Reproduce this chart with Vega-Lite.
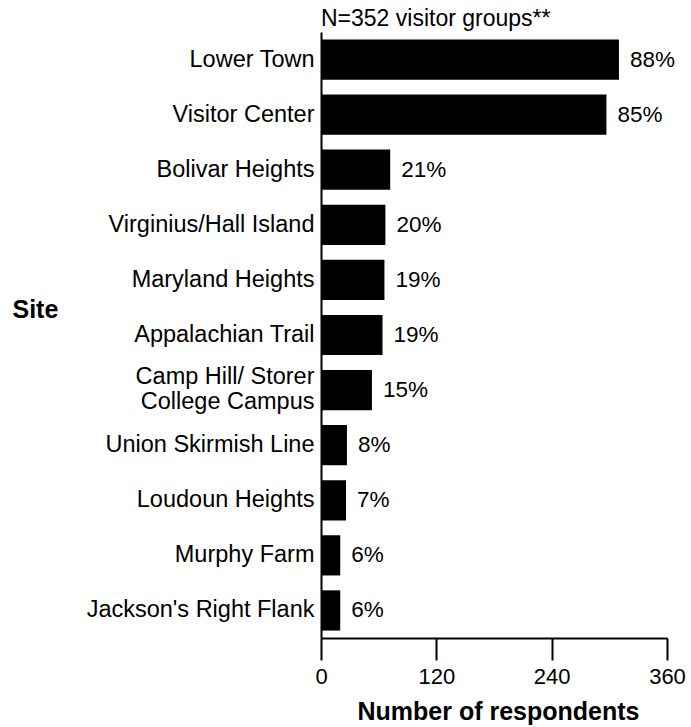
{
  "$schema": "https://vega.github.io/schema/vega-lite/v6.json",
  "autosize": {"type": "none"},
  "width": 346,
  "height": 606,
  "padding": {"left": 321, "top": 32, "right": 24, "bottom": 89},
  "background": "white",
  "config": {
    "font": "Liberation Sans",
    "view": {"stroke": null}
  },
  "title": {
    "text": "N=352 visitor groups**",
    "anchor": "start",
    "frame": "group",
    "orient": "top",
    "fontSize": 23,
    "fontWeight": "normal",
    "font": "Liberation Sans",
    "color": "black",
    "baseline": "alphabetic",
    "offset": 8,
    "dy": 25
  },
  "data": {
    "values": [
      {"site": "Lower Town", "count": 310, "pct": "88%"},
      {"site": "Visitor Center", "count": 297, "pct": "85%"},
      {"site": "Bolivar Heights", "count": 72, "pct": "21%"},
      {"site": "Virginius/Hall Island", "count": 67, "pct": "20%"},
      {"site": "Maryland Heights", "count": 66, "pct": "19%"},
      {"site": "Appalachian Trail", "count": 64, "pct": "19%"},
      {"site": "Camp Hill/ Storer|College Campus", "count": 53, "pct": "15%"},
      {"site": "Union Skirmish Line", "count": 27, "pct": "8%"},
      {"site": "Loudoun Heights", "count": 26, "pct": "7%"},
      {"site": "Murphy Farm", "count": 20, "pct": "6%"},
      {"site": "Jackson's Right Flank", "count": 20, "pct": "6%"}
    ]
  },
  "encoding": {
    "y": {
      "field": "site",
      "type": "nominal",
      "sort": null,
      "scale": {"paddingInner": 0.27, "paddingOuter": 0.135},
      "axis": {
        "title": "Site",
        "titleAngle": 0,
        "titleX": -309,
        "titleY": 285,
        "titleAlign": "left",
        "titleBaseline": "alphabetic",
        "titleFontSize": 25,
        "titleFontWeight": "bold",
        "titleColor": "black",
        "titleFont": "Liberation Sans",
        "labelExpr": "split(datum.label, '|')",
        "labelFontSize": 23.5,
        "labelColor": "black",
        "labelFont": "Liberation Sans",
        "labelLineHeight": 25,
        "labelPadding": 7,
        "labelOffset": {"condition": {"test": "indexof(datum.value, '|') >= 0", "value": -13}, "value": 0},
        "ticks": false,
        "tickSize": 0,
        "domainColor": "black",
        "domainWidth": 2,
        "labelLimit": 400,
        "grid": false
      }
    },
    "x": {
      "field": "count",
      "type": "quantitative",
      "scale": {"domain": [0, 360], "nice": false},
      "axis": {
        "title": "Number of respondents",
        "values": [0, 120, 240, 360],
        "titleFontSize": 25,
        "titleFontWeight": "bold",
        "titleColor": "black",
        "titleFont": "Liberation Sans",
        "titleY": 81,
        "titleX": 177,
        "titleBaseline": "alphabetic",
        "labelFontSize": 22,
        "labelColor": "black",
        "labelFont": "Liberation Sans",
        "labelPadding": 6,
        "labelFlush": false,
        "tickSize": 22,
        "tickWidth": 2,
        "tickColor": "black",
        "domainColor": "black",
        "domainWidth": 2,
        "grid": false
      }
    }
  },
  "layer": [
    {"mark": {"type": "bar", "color": "black"}},
    {
      "mark": {"type": "text", "align": "left", "baseline": "middle", "dx": 11, "fontSize": 22.5, "font": "Liberation Sans", "color": "black"},
      "encoding": {"text": {"field": "pct"}}
    }
  ]
}
